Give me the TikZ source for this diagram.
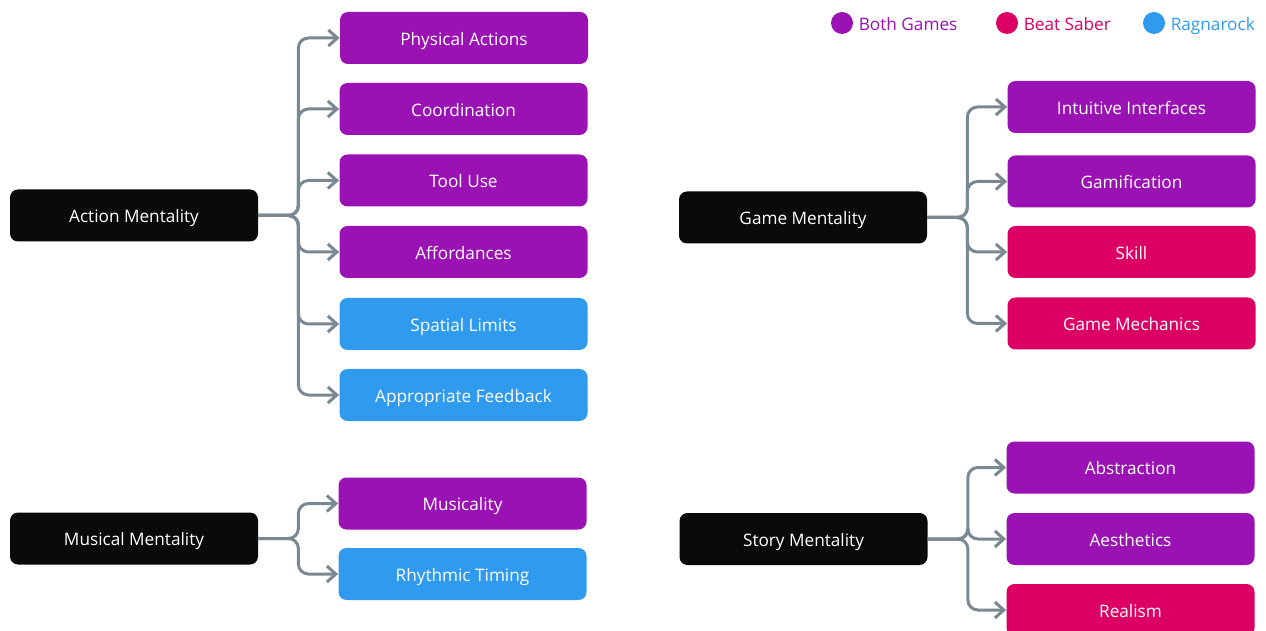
\documentclass[tikz,border=0pt]{standalone}
\usepackage{fontspec}
\setmainfont{Open Sans}
\usetikzlibrary{arrows.meta,positioning}

\definecolor{both}{HTML}{9A12B3}
\definecolor{saber}{HTML}{DC0064}
\definecolor{ragna}{HTML}{309BEE}
\definecolor{mindblack}{HTML}{0A0A0A}
\definecolor{linkgray}{HTML}{7A8991}

\begin{document}
\begin{tikzpicture}[x=0.5pt,y=-0.5pt,
  box/.style={shape=rectangle,rounded corners=4pt,minimum width=124pt,minimum height=26pt,inner sep=0pt,text height=0.72em,text depth=0pt,text=white,font=\fontsize{8.6}{10}\selectfont},
  mind/.style={box,fill=mindblack},
  boxB/.style={box,fill=both},
  boxS/.style={box,fill=saber},
  boxR/.style={box,fill=ragna},
  link/.style={draw=linkgray,line width=1.5pt,rounded corners=5pt,-{Straight Barb[length=4.5pt,width=8pt]}},
  dot/.style={shape=circle,minimum size=11pt,inner sep=0pt},
  key/.style={inner sep=0pt,text height=0.72em,text depth=0pt,font=\fontsize{8.6}{10}\selectfont}]
\def\dt{40};

\useasboundingbox (0,0) rectangle (1266,631);

% legend
\node[dot,fill=both] (lb) at (842,23) {};
\node[key,text=both,right=2.5pt of lb] (lbt) {Both Games};
\node[dot,fill=saber] (ls) at (1007,23) {};
\node[key,text=saber,right=2.5pt of ls] (lst) {Beat Saber};
\node[dot,fill=ragna] (lr) at (1154,23) {};
\node[key,text=ragna,right=2.5pt of lr] (lrt) {Ragnarock};

% action
\node[mind] (act) at (134,215.5) {Action Mentality};
\node[boxB] (phys) at (464,38) {Physical Actions};
\node[boxB] (coord) at (463.5,109) {Coordination};
\node[boxB] (tool) at (463.5,180.5) {Tool Use};
\node[boxB] (aff) at (463.5,252) {Affordances};
\node[boxR] (spat) at (463.5,324) {Spatial Limits};
\node[boxR] (feed) at (463.5,395) {Appropriate Feedback};
\foreach \t in {phys,coord,tool,aff,spat,feed}
  \draw[link] (act.east) -- ++(\dt,0) |- (\t.west);

% musical
\node[mind] (mus) at (134,538.5) {Musical Mentality};
\node[boxB] (music) at (462.5,503.5) {Musicality};
\node[boxR] (rhy) at (462.5,574) {Rhythmic Timing};
\foreach \t in {music,rhy}
  \draw[link] (mus.east) -- ++(\dt,0) |- (\t.west);

% game
\node[mind] (game) at (803,217.5) {Game Mentality};
\node[boxB] (intu) at (1131.5,107) {Intuitive Interfaces};
\node[boxB] (gami) at (1131.5,181.5) {Gamification};
\node[boxS] (skill) at (1131.5,252) {Skill};
\node[boxS] (mech) at (1131.5,323.5) {Game Mechanics};
\foreach \t in {intu,gami,skill,mech}
  \draw[link] (game.east) -- ++(\dt,0) |- (\t.west);

% story
\node[mind] (story) at (803.5,539) {Story Mentality};
\node[boxB] (abst) at (1130.5,467.5) {Abstraction};
\node[boxB] (aest) at (1130.5,539) {Aesthetics};
\node[boxS] (real) at (1130.5,610) {Realism};
\foreach \t in {abst,aest,real}
  \draw[link] (story.east) -- ++(\dt,0) |- (\t.west);

\end{tikzpicture}
\end{document}
